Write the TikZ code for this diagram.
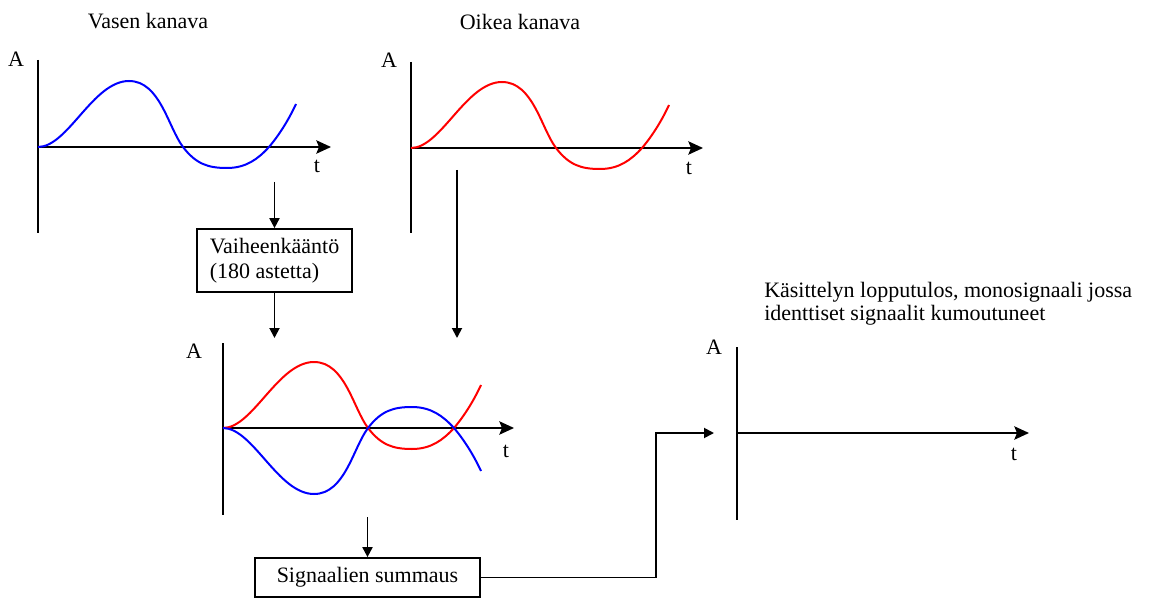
\documentclass[tikz,border=0pt]{standalone}
\usepackage{fontspec}
\setmainfont{Liberation Serif}
\usetikzlibrary{arrows.meta,positioning}

\begin{document}
\begin{tikzpicture}[x=0.75pt, y=-0.75pt,
  lbl/.style={font=\fontsize{16.5}{17.25}\selectfont, inner sep=0pt},
  axis/.style={line width=1.5pt, -{Stealth[length=11pt, width=10pt, inset=2pt]}},
  yaxis/.style={line width=1.5pt},
  flow/.style={line width=1.4pt, -{Triangle[length=7.5pt, width=7.5pt]}},
  box/.style={rectangle, draw, line width=1.3pt, inner sep=0pt, align=left, font=\fontsize{16.5}{18.75}\selectfont},
  wave/.pic={\draw[line width=1.5pt, #1] (0,0) .. controls (30,0) and (55,-66) .. (91,-66)
      .. controls (122,-66) and (130,-20) .. (145,0) .. controls (158,17) and (170,21) .. (189,21)
      .. controls (208,21) and (220,12) .. (231,0) .. controls (242,-13) and (251,-28) .. (258,-43);}]

\useasboundingbox (0,0) rectangle (1156,599);

% left channel
\node[lbl, anchor=base] (lefttitle) at (148,29) {Vasen kanava};
\node[lbl, anchor=base] (leftA) at (16,67) {A};
\node[lbl, anchor=base] (leftt) at (317,173) {t};
\draw[yaxis] (38,60) -- (38,233);
\draw[axis] (38,147) -- (331,147);
\pic at (38,147) {wave=blue};

% right channel
\node[lbl, anchor=base] (righttitle) at (520,30) {Oikea kanava};
\node[lbl, anchor=base] (rightA) at (389,68) {A};
\node[lbl, anchor=base] (rightt) at (689,175) {t};
\draw[yaxis] (411,62) -- (411,233);
\draw[axis] (411,148) -- (703,148);
\pic at (411,148) {wave=red};

% phase inversion
\node[box, minimum width=116.25pt, minimum height=47.25pt] (phase) at (274.5,260.5) {Vaiheenk\"a\"ant\"o\\(180 astetta)};
\coordinate (leftout) at (274.5,182);
\coordinate (invin) at (274.5,338);
\coordinate (rightout) at (457,170);
\coordinate (rightin) at (457,338);
\draw[flow] (leftout) -- (phase.north);
\draw[flow] (phase.south) -- (invin);
\draw[flow] (rightout) -- (rightin);

% both signals
\node[lbl, anchor=base] (mixA) at (194,358) {A};
\node[lbl, anchor=base] (mixt) at (506,457) {t};
\draw[yaxis] (223,343) -- (223,515);
\draw[axis] (223,428) -- (514,428);
\pic at (223,428) {wave=red};
\pic[yscale=-1] at (223,428) {wave=blue};

% summing
\node[box, align=center, minimum width=168.75pt, minimum height=29.25pt] (sum) at (367.5,577.5) {Signaalien summaus};
\coordinate (mixout) at (367.5,517);
\draw[flow] (mixout) -- (sum.north);

% result
\node[lbl, anchor=north west, align=left] (restext) at (764,282) {K\"asittelyn lopputulos, monosignaali jossa\\identtiset signaalit kumoutuneet};
\node[lbl, anchor=base] (resA) at (714,354) {A};
\node[lbl, anchor=base] (rest) at (1014,460) {t};
\draw[yaxis] (737,347) -- (737,520);
\draw[axis] (737,433) -- (1029,433);
\coordinate (knee) at (656,433);
\coordinate (resin) at (714,433);
\draw[flow] (sum.east) -| (knee) -- (resin);

\end{tikzpicture}
\end{document}
